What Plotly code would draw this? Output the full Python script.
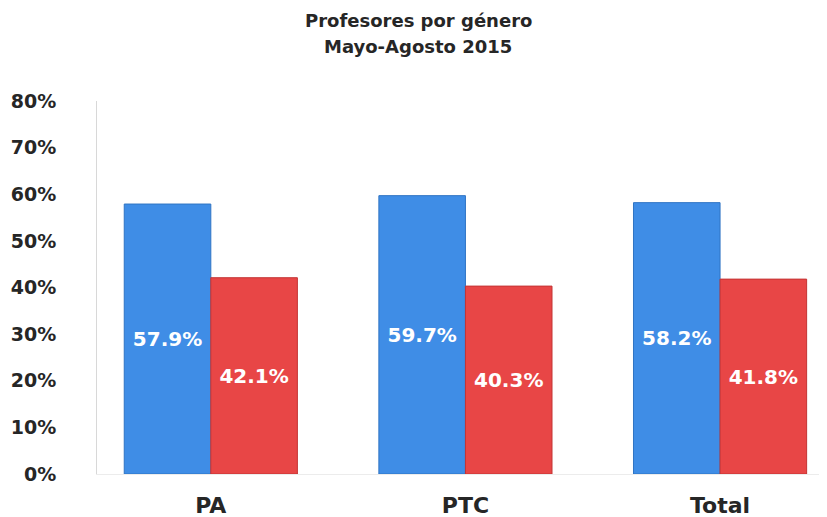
import plotly.graph_objects as go

categories = ["PA", "PTC", "Total"]
hombres = [57.9, 59.7, 58.2]
mujeres = [42.1, 40.3, 41.8]
tick_vals = [0, 10, 20, 30, 40, 50, 60, 70, 80]
tick_text = [f"{v}%" for v in tick_vals]
title_lines = ["Profesores por género", "Mayo-Agosto 2015"]

font_family = "DejaVu Sans, Verdana, sans-serif"

fig = go.Figure()
fig.add_trace(go.Bar(
    x=categories, y=hombres,
    text=[f"{v:.1f}%" for v in hombres],
    textposition="inside", insidetextanchor="middle",
    textfont=dict(family=font_family, size=20, color="white"),
    marker=dict(color="#3f8de6", line=dict(color="#2f74c4", width=1)),
    texttemplate="<b>%{text}</b>",
    name="Hombres",
))
fig.add_trace(go.Bar(
    x=categories, y=mujeres,
    text=[f"{v:.1f}%" for v in mujeres],
    textposition="inside", insidetextanchor="middle",
    textfont=dict(family=font_family, size=20, color="white"),
    marker=dict(color="#e84646", line=dict(color="#c43434", width=1)),
    texttemplate="<b>%{text}</b>",
    name="Mujeres",
))

for line, ypos in zip(title_lines, [1.217, 1.145]):
    fig.add_annotation(
        text=f"<b>{line}</b>",
        xref="paper", yref="paper", x=0.44, y=ypos,
        xanchor="center", yanchor="middle", showarrow=False,
        font=dict(family=font_family, size=18, color="#262626"),
    )

fig.update_layout(
    width=827, height=517,
    paper_bgcolor="white", plot_bgcolor="white",
    barmode="group", bargap=0.32, bargroupgap=0,
    showlegend=False,
    margin=dict(l=89, r=8, t=93, b=51),
    xaxis=dict(
        range=[-0.447, 2.42], automargin=False,
        showline=True, linecolor="#ececec", linewidth=1,
        ticks="", showgrid=False, zeroline=False,
        ticklabelstandoff=12,
        tickfont=dict(family=font_family, size=22, color="#262626"),
        tickprefix="<b>", ticksuffix="</b>",
    ),
    yaxis=dict(
        range=[0, 80], automargin=False,
        tickvals=tick_vals, ticktext=[f"<b>{t}</b>" for t in tick_text],
        showline=True, linecolor="#d8d8d8", linewidth=1,
        showgrid=False, zeroline=False, ticks="",
        ticklabelstandoff=36,
        tickfont=dict(family=font_family, size=19, color="#262626"),
    ),
)

fig.write_html("out.html")
